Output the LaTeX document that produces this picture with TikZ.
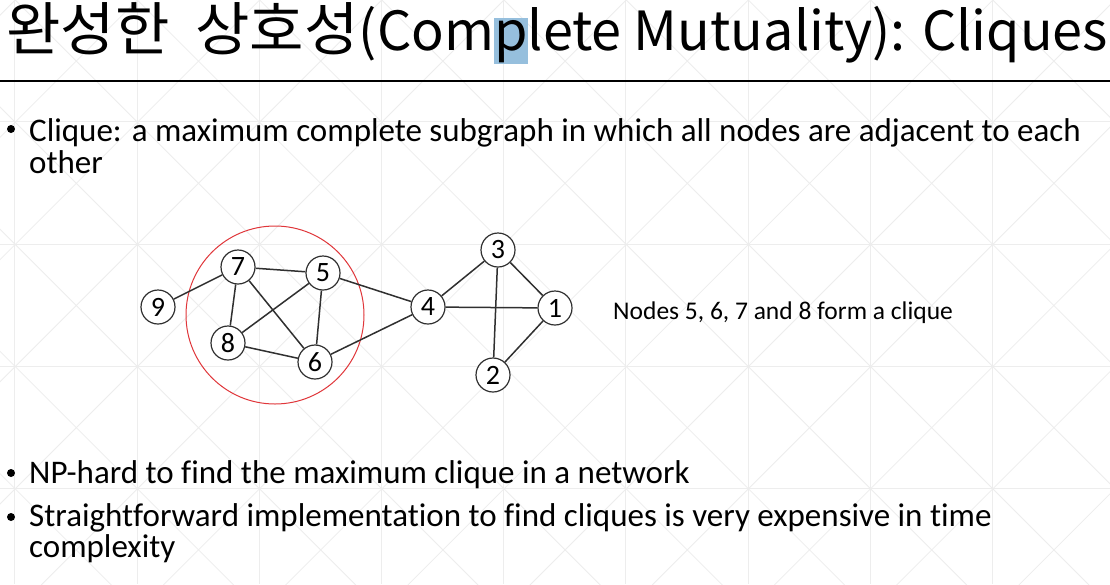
\documentclass[tikz,border=0pt]{standalone}
\usepackage{graphicx}
\usepackage{fontspec}
\setmainfont{Carlito}[Ligatures={NoCommon}]
\newfontfamily\krfont{Noto Sans CJK KR}
\usetikzlibrary{positioning}
\definecolor{cline}{HTML}{303030}
\definecolor{cring}{HTML}{E0363A}
\definecolor{cgrid}{HTML}{EDEDED}
\definecolor{chl}{HTML}{96BFDD}
\newcommand{\bodyfont}[1]{\fontsize{33}{#1}\selectfont\lineskiplimit-100pt\relax}

\begin{document}
\begin{tikzpicture}[x=1pt, y=-1pt,
  vtx/.style={circle, draw=cline, line width=1.2pt, fill=white,
              minimum size=34pt, inner sep=0pt, font=\fontsize{28}{28}\selectfont},
  link/.style={draw=cline, line width=1.5pt},
  ring/.style={circle, draw=cring, line width=1pt, minimum size=178pt, inner sep=0pt},
  body/.style={anchor=base west, inner sep=0pt, align=left, font=\bodyfont{32}},
  bul/.style={circle, fill=black, minimum size=8pt, inner sep=0pt},
  gridln/.style={draw=cgrid, line width=0.8pt}
]
  \useasboundingbox (0,0) rectangle (1110,584);
  \fill[white] (0,0) rectangle (1110,584);

  % background pattern
  \begin{scope}
    \clip (0,0) rectangle (1110,584);
    \foreach \i in {0,...,8}
      \draw[gridln] ({14.7+122.2*\i},0) -- ({14.7+122.2*\i},584);
    \foreach \j in {0,...,4}
      \draw[gridln] (0,{-0.5+122.2*\j}) -- (1110,{-0.5+122.2*\j});
    \foreach \k in {-6,...,9}
      \draw[gridln] ({15.2+122.2*\k-100},-100) -- ({15.2+122.2*\k+700},700);
    \foreach \k in {0,...,14}
      \draw[gridln] ({15.2+122.2*\k+100},-100) -- ({15.2+122.2*\k-700},700);
  \end{scope}

  % title
  \node[anchor=base west, inner sep=0pt, font=\krfont] (ttl) at (6,50)
    {{\fontsize{58}{58}\selectfont\scalebox{1.02}[1]{완성한}\hspace{26pt}\scalebox{1.02}[1]{상호성}}%
     {\fontsize{54}{54}\selectfont
     (Com{\fboxsep=0pt\colorbox{chl}{\rule[-14pt]{0pt}{46pt}p}}lete Mutuality): Cliques}};
  \draw[line width=2.5pt] (0,81) -- (1110,81);

  % bullets
  \node[bul] (b1) at (11,129) {};
  \node[body] (t1) at (29,173)
    {Clique: a maximum complete subgraph in which all nodes are adjacent to each\\other};
  \node[bul] (b2) at (11,473) {};
  \node[body] (t2) at (29,483) {NP-hard to find the maximum clique in a network};
  \node[bul] (b3) at (11,517) {};
  \node[body, font=\bodyfont{31}] (t3) at (29,557.5)
    {Straightforward implementation to find cliques is very expensive in time\\complexity};

  % graph
  \node[ring] (clq) at (275,315) {};
  \node[vtx] (n7) at (238,267) {7};
  \node[vtx] (n5) at (323,273) {5};
  \node[vtx] (n9) at (158,307) {9};
  \node[vtx] (n8) at (228,343) {8};
  \node[vtx] (n6) at (315,362) {6};
  \node[vtx] (n4) at (428,307) {4};
  \node[vtx] (n3) at (498,250) {3};
  \node[vtx] (n1) at (555,308) {1};
  \node[vtx] (n2) at (493,375) {2};

  \draw[link] (n9) -- (n7);
  \draw[link] (n7) -- (n5);
  \draw[link] (n7) -- (n8);
  \draw[link] (n7) -- (n6);
  \draw[link] (n5) -- (n8);
  \draw[link] (n5) -- (n6);
  \draw[link] (n8) -- (n6);
  \draw[link] (n5) -- (n4);
  \draw[link] (n6) -- (n4);
  \draw[link] (n4) -- (n3);
  \draw[link] (n4) -- (n1);
  \draw[link] (n3) -- (n1);
  \draw[link] (n3) -- (n2);
  \draw[link] (n1) -- (n2);

  \node[anchor=base west, inner sep=0pt, font=\fontsize{25.5}{25.5}\selectfont] (cap) at (613,319)
    {Nodes 5, 6, 7 and 8 form a clique};
\end{tikzpicture}
\end{document}
